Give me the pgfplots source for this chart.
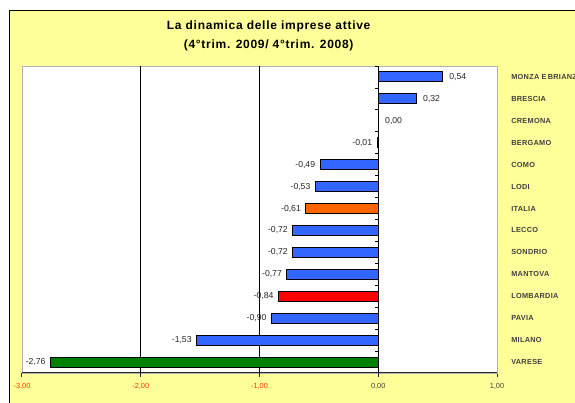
\documentclass[border=0pt]{standalone}
\usepackage{fontspec}
\setmainfont{Liberation Sans}
\newfontfamily\titlefont[LetterSpace=6]{Liberation Sans}
\newfontfamily\catfont[LetterSpace=4]{Liberation Sans}
\usepackage{pgfplots}
\pgfplotsset{compat=1.18}
\definecolor{chartyellow}{HTML}{FFFF99}
\definecolor{barblue}{HTML}{3366FF}
\definecolor{barorange}{HTML}{FF6600}
\definecolor{barred}{HTML}{FF0000}
\definecolor{bargreen}{HTML}{008000}
\definecolor{tickred}{HTML}{FF3300}
\definecolor{labgray}{HTML}{404040}

\begin{document}
\begin{tikzpicture}
\path[use as bounding box] (0,0) rectangle (431.25pt,302.25pt);
\clip (0,0) rectangle (431.25pt,302.25pt);
\fill[white] (0,0) rectangle (431.25pt,302.25pt);
\filldraw[fill=chartyellow, draw=black, line width=0.75pt] (6.75pt,-10pt) rectangle (450pt,294pt);

\node[font=\titlefont\bfseries\fontsize{9}{11}\selectfont] at (201.5pt,282.5pt) {La dinamica delle imprese attive};
\node[font=\titlefont\bfseries\fontsize{9}{11}\selectfont] at (201.5pt,268.5pt) {(4°trim. 2009/ 4°trim. 2008)};

\begin{axis}[
    at={(16.5pt,22.5pt)}, anchor=south west,
    width=356.25pt, height=230.25pt, scale only axis,
    xbar, bar width=7.5pt, bar shift=0pt,
    xmin=-3, xmax=1, ymin=-0.5, ymax=13.5,
    axis background/.style={fill=white},
    axis line style={gray!60, line width=0.6pt},
    xtick={-3,-2,-1,0,1},
    xticklabels={\textcolor{tickred}{-3,00},\textcolor{tickred}{-2,00},\textcolor{tickred}{-1,00},\textcolor{labgray}{0,00},\textcolor{labgray}{1,00}},
    xtick pos=left, xtick align=outside, major tick length=3pt,
    x tick style={black!85, line width=0.75pt},
    x tick label style={font=\fontsize{5.5}{6}\selectfont, yshift=-1.5pt},
    ytick={0,...,13},
    yticklabels={VARESE,MILANO,PAVIA,LOMBARDIA,MANTOVA,SONDRIO,LECCO,ITALIA,LODI,COMO,BERGAMO,CREMONA,BRESCIA,MONZA E\hspace{-0.8pt} BRIANZA},
    yticklabel pos=right,
    y tick style={draw=none},
    y tick label style={font=\catfont\bfseries\fontsize{5.5}{6}\selectfont, text=labgray, anchor=west, inner sep=0pt, xshift=7.5pt},
    extra x ticks={-2,-1,0}, extra x tick labels={},
    extra x tick style={grid=major, major grid style={black, line width=0.6pt}},
    point meta=x,
    nodes near coords={\pgfmathprintnumber[fixed,fixed zerofill,precision=2,use comma,assume math mode=true]{\pgfplotspointmeta}},
    every node near coord/.append style={font=\fontsize{6.5}{7}\selectfont, text=black!85},
]
\addplot[fill=barblue, draw=black, line width=0.75pt,
    every node near coord/.append style={anchor=east}] coordinates {
    (-1.53,1) (-0.90,2) (-0.77,4) (-0.72,5) (-0.72,6) (-0.53,8) (-0.49,9) (-0.01,10)
};
\addplot[fill=barblue, draw=black, line width=0.75pt,
    every node near coord/.append style={anchor=west, xshift=1.5pt}] coordinates {
    (0.00,11) (0.32,12) (0.54,13)
};
\addplot[fill=barorange, draw=black, line width=0.75pt,
    every node near coord/.append style={anchor=east}] coordinates {(-0.61,7)};
\addplot[fill=barred, draw=black, line width=0.75pt,
    every node near coord/.append style={anchor=east}] coordinates {(-0.84,3)};
\addplot[fill=bargreen, draw=black, line width=0.75pt,
    every node near coord/.append style={anchor=east}] coordinates {(-2.76,0)};
\draw[black, line width=0.75pt] (axis cs:0,-0.5) -- (axis cs:0,13.5);
\pgfplotsinvokeforeach{-0.5,0.5,...,13.5}{
  \draw[black, line width=0.6pt] (axis cs:0,#1) -- ([xshift=-2.5pt]axis cs:0,#1);
}
\draw[black!85, line width=1pt] (rel axis cs:0,0) -- (rel axis cs:1,0);
\end{axis}
\end{tikzpicture}
\end{document}
